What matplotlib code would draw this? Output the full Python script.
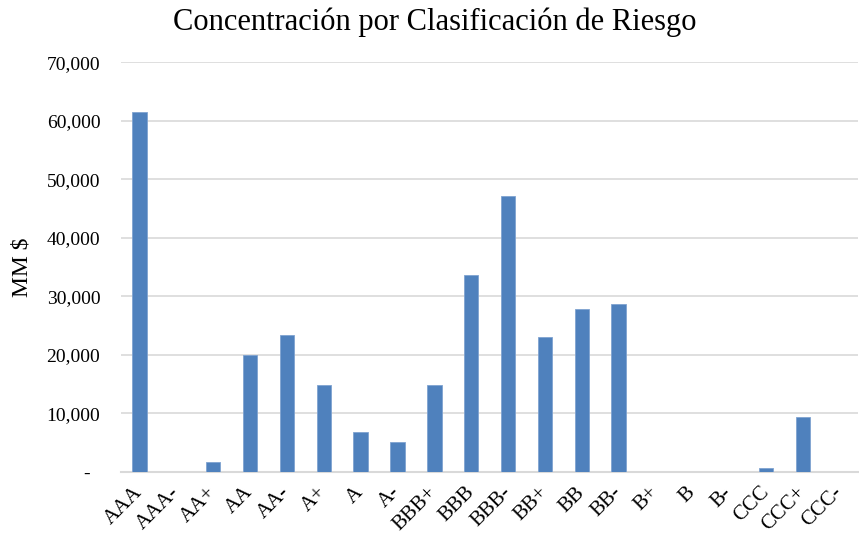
import matplotlib
matplotlib.use('Agg')
import matplotlib.pyplot as plt
from matplotlib.ticker import FuncFormatter
import numpy as np

# Rating categories and exposure (MM $)
ratings = ['AAA', 'AAA-', 'AA+', 'AA', 'AA-', 'A+', 'A', 'A-', 'BBB+', 'BBB',
           'BBB-', 'BB+', 'BB', 'BB-', 'B+', 'B', 'B-', 'CCC', 'CCC+', 'CCC-']
amounts = [61500, 0, 1700, 20000, 23300, 14900, 6800, 5100, 14900, 33700,
           47150, 23000, 27800, 28700, 0, 0, 0, 600, 9350, 0]
y_ticks = [0, 10000, 20000, 30000, 40000, 50000, 60000, 70000]

title = 'Concentración por Clasificación de Riesgo'
y_label = 'MM $'

plt.rcParams['font.family'] = ['Liberation Serif', 'DejaVu Serif']

fig = plt.figure(figsize=(8.59, 5.34), dpi=100)
ax = fig.add_axes([0.141, 0.1167, 0.858, 0.7666])

x = np.arange(len(ratings))
ax.bar(x, amounts, width=0.39, color='#4f81bd', edgecolor='#7fa3d1',
       linewidth=0.6, zorder=3)

ax.set_xlim(-0.5, len(ratings) - 0.5)
ax.set_ylim(0, 70000)
ax.set_yticks(y_ticks)
ax.yaxis.set_major_formatter(
    FuncFormatter(lambda v, _: '-  ' if v == 0 else f'{v:,.0f}'))
ax.grid(axis='y', color='#d9d9d9', linewidth=1.2, zorder=0)
ax.set_axisbelow(True)

for side in ('top', 'right', 'left'):
    ax.spines[side].set_visible(False)
ax.spines['bottom'].set_color('#d9d9d9')
ax.spines['bottom'].set_linewidth(1.5)

ax.tick_params(axis='y', length=0, pad=15, labelsize=14)
ax.tick_params(axis='x', length=0, pad=13, labelsize=15)
ax.set_xticks(x)
ax.set_xticklabels(ratings, rotation=45, ha='right', va='center',
                   rotation_mode='anchor')

ax.set_ylabel(y_label, fontsize=17)
ax.yaxis.set_label_coords(-0.12, 0.5)

fig.text(435 / 859, 1 - 22 / 534, title, ha='center', va='center', fontsize=22)

fig.savefig('out.png', dpi=100)
